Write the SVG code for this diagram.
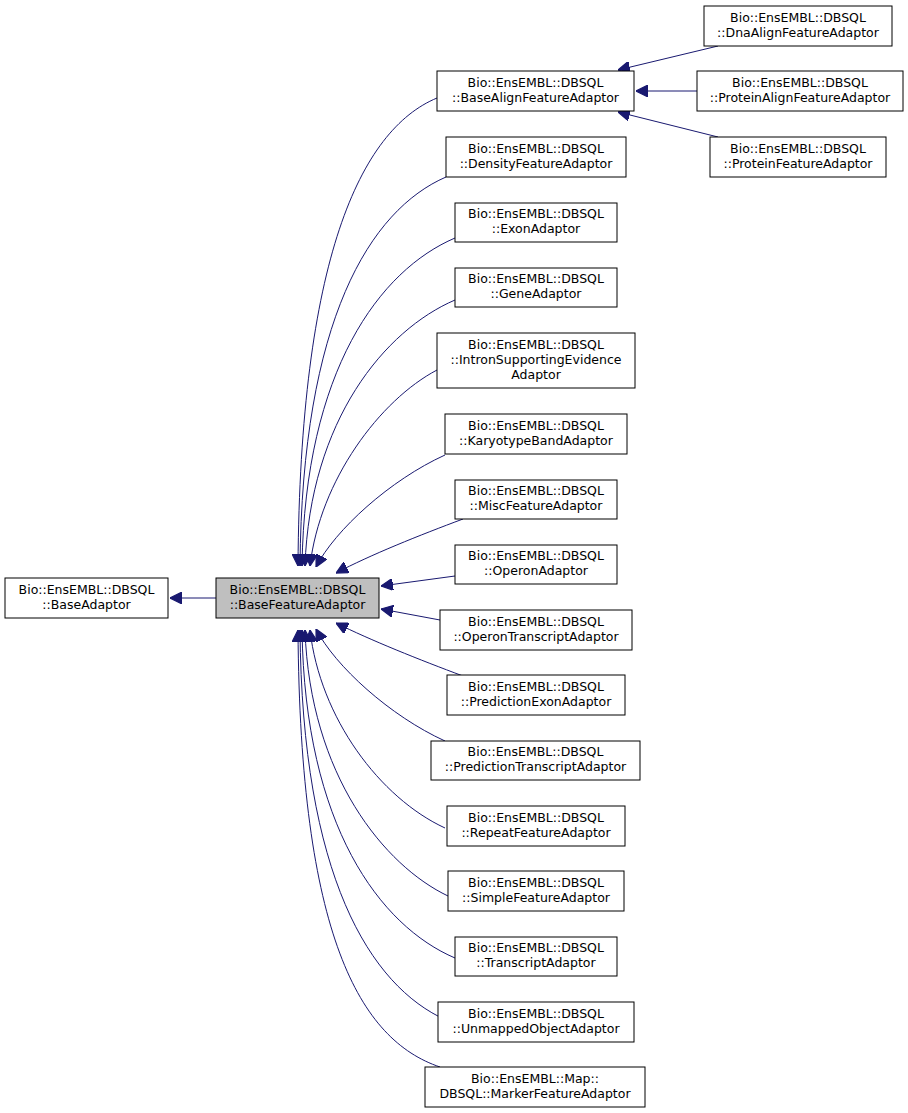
<svg xmlns="http://www.w3.org/2000/svg" width="908" height="1113" viewBox="0 0 908 1113">
<style>
.n rect{fill:#fff;stroke:#000;stroke-width:1}
.n text{font-family:"DejaVu Sans",sans-serif;font-size:12.5px;text-anchor:middle;fill:#000}
#e path{fill:none;stroke:#191970;stroke-width:1}
</style>
<defs><marker id="a" viewBox="0 0 10 10" refX="10" refY="5" markerWidth="12" markerHeight="12" markerUnits="userSpaceOnUse" orient="auto"><path d="M0,0L10,5L0,10z" fill="#191970" stroke="#191970"/></marker></defs>
<rect width="908" height="1113" fill="#fff"/>
<g id="e">
<path d="M216,598H170" marker-end="url(#a)"/>
<path d="M437,98C360,130 300,260 298,566" marker-end="url(#a)"/>
<path d="M446,177C370,210 302,320 300,566" marker-end="url(#a)"/>
<path d="M455,238C380,270 305,370 302,566" marker-end="url(#a)"/>
<path d="M455,300C385,330 310,420 305,566" marker-end="url(#a)"/>
<path d="M437,370C380,400 320,480 310,566" marker-end="url(#a)"/>
<path d="M445,455C390,480 335,530 316,567" marker-end="url(#a)"/>
<path d="M463,519C420,535 370,555 336,573" marker-end="url(#a)"/>
<path d="M455,576L381,586" marker-end="url(#a)"/>
<path d="M440,620L381,609" marker-end="url(#a)"/>
<path d="M463,676C420,660 370,640 336,623" marker-end="url(#a)"/>
<path d="M445,741C390,716 335,666 316,629" marker-end="url(#a)"/>
<path d="M445,828C380,798 320,718 310,630" marker-end="url(#a)"/>
<path d="M448,896C385,866 310,776 305,630" marker-end="url(#a)"/>
<path d="M455,958C380,926 305,826 302,630" marker-end="url(#a)"/>
<path d="M446,1020C370,986 302,876 300,630" marker-end="url(#a)"/>
<path d="M440,1067C360,1040 300,936 298,630" marker-end="url(#a)"/>
<path d="M718,46L618,70" marker-end="url(#a)"/>
<path d="M697,91H636" marker-end="url(#a)"/>
<path d="M718,137L618,112" marker-end="url(#a)"/>
</g>
<g id="BaseAdaptor" class="n"><rect x="5" y="578" width="163" height="40"/><text x="86.5" y="594">Bio::EnsEMBL::DBSQL</text><text x="86.5" y="609">::BaseAdaptor</text></g>
<g id="BaseFeatureAdaptor" class="n"><rect x="216" y="578" width="163" height="40" style="fill:#bfbfbf"/><text x="297.5" y="594">Bio::EnsEMBL::DBSQL</text><text x="297.5" y="609">::BaseFeatureAdaptor</text></g>
<g id="BaseAlignFeatureAdaptor" class="n"><rect x="437" y="71" width="197" height="40"/><text x="535.5" y="87">Bio::EnsEMBL::DBSQL</text><text x="535.5" y="102">::BaseAlignFeatureAdaptor</text></g>
<g id="DensityFeatureAdaptor" class="n"><rect x="446" y="137" width="180" height="40"/><text x="536" y="153">Bio::EnsEMBL::DBSQL</text><text x="536" y="168">::DensityFeatureAdaptor</text></g>
<g id="ExonAdaptor" class="n"><rect x="455" y="203" width="162" height="39"/><text x="536" y="218">Bio::EnsEMBL::DBSQL</text><text x="536" y="233">::ExonAdaptor</text></g>
<g id="GeneAdaptor" class="n"><rect x="455" y="268" width="162" height="39"/><text x="536" y="283">Bio::EnsEMBL::DBSQL</text><text x="536" y="298">::GeneAdaptor</text></g>
<g id="IntronSupportingEvidenceAdaptor" class="n"><rect x="437" y="333" width="198" height="55"/><text x="536" y="349">Bio::EnsEMBL::DBSQL</text><text x="536" y="364">::IntronSupportingEvidence</text><text x="536" y="379">Adaptor</text></g>
<g id="KaryotypeBandAdaptor" class="n"><rect x="445" y="414" width="182" height="40"/><text x="536" y="430">Bio::EnsEMBL::DBSQL</text><text x="536" y="445">::KaryotypeBandAdaptor</text></g>
<g id="MiscFeatureAdaptor" class="n"><rect x="455" y="480" width="162" height="39"/><text x="536" y="495">Bio::EnsEMBL::DBSQL</text><text x="536" y="510">::MiscFeatureAdaptor</text></g>
<g id="OperonAdaptor" class="n"><rect x="455" y="545" width="162" height="39"/><text x="536" y="560">Bio::EnsEMBL::DBSQL</text><text x="536" y="575">::OperonAdaptor</text></g>
<g id="OperonTranscriptAdaptor" class="n"><rect x="440" y="610" width="192" height="40"/><text x="536" y="626">Bio::EnsEMBL::DBSQL</text><text x="536" y="641">::OperonTranscriptAdaptor</text></g>
<g id="PredictionExonAdaptor" class="n"><rect x="447" y="675" width="178" height="40"/><text x="536" y="691">Bio::EnsEMBL::DBSQL</text><text x="536" y="706">::PredictionExonAdaptor</text></g>
<g id="PredictionTranscriptAdaptor" class="n"><rect x="431" y="741" width="209" height="39"/><text x="535.5" y="756">Bio::EnsEMBL::DBSQL</text><text x="535.5" y="771">::PredictionTranscriptAdaptor</text></g>
<g id="RepeatFeatureAdaptor" class="n"><rect x="447" y="806" width="178" height="40"/><text x="536" y="822">Bio::EnsEMBL::DBSQL</text><text x="536" y="837">::RepeatFeatureAdaptor</text></g>
<g id="SimpleFeatureAdaptor" class="n"><rect x="448" y="871" width="176" height="40"/><text x="536" y="887">Bio::EnsEMBL::DBSQL</text><text x="536" y="902">::SimpleFeatureAdaptor</text></g>
<g id="TranscriptAdaptor" class="n"><rect x="455" y="937" width="162" height="39"/><text x="536" y="952">Bio::EnsEMBL::DBSQL</text><text x="536" y="967">::TranscriptAdaptor</text></g>
<g id="UnmappedObjectAdaptor" class="n"><rect x="438" y="1002" width="196" height="40"/><text x="536" y="1018">Bio::EnsEMBL::DBSQL</text><text x="536" y="1033">::UnmappedObjectAdaptor</text></g>
<g id="MarkerFeatureAdaptor" class="n"><rect x="425" y="1067" width="220" height="40"/><text x="535" y="1083">Bio::EnsEMBL::Map::</text><text x="535" y="1098">DBSQL::MarkerFeatureAdaptor</text></g>
<g id="DnaAlignFeatureAdaptor" class="n"><rect x="704" y="6" width="188" height="40"/><text x="798" y="22">Bio::EnsEMBL::DBSQL</text><text x="798" y="37">::DnaAlignFeatureAdaptor</text></g>
<g id="ProteinAlignFeatureAdaptor" class="n"><rect x="697" y="71" width="206" height="40"/><text x="800" y="87">Bio::EnsEMBL::DBSQL</text><text x="800" y="102">::ProteinAlignFeatureAdaptor</text></g>
<g id="ProteinFeatureAdaptor" class="n"><rect x="710" y="137" width="176" height="40"/><text x="798" y="153">Bio::EnsEMBL::DBSQL</text><text x="798" y="168">::ProteinFeatureAdaptor</text></g>
</svg>
